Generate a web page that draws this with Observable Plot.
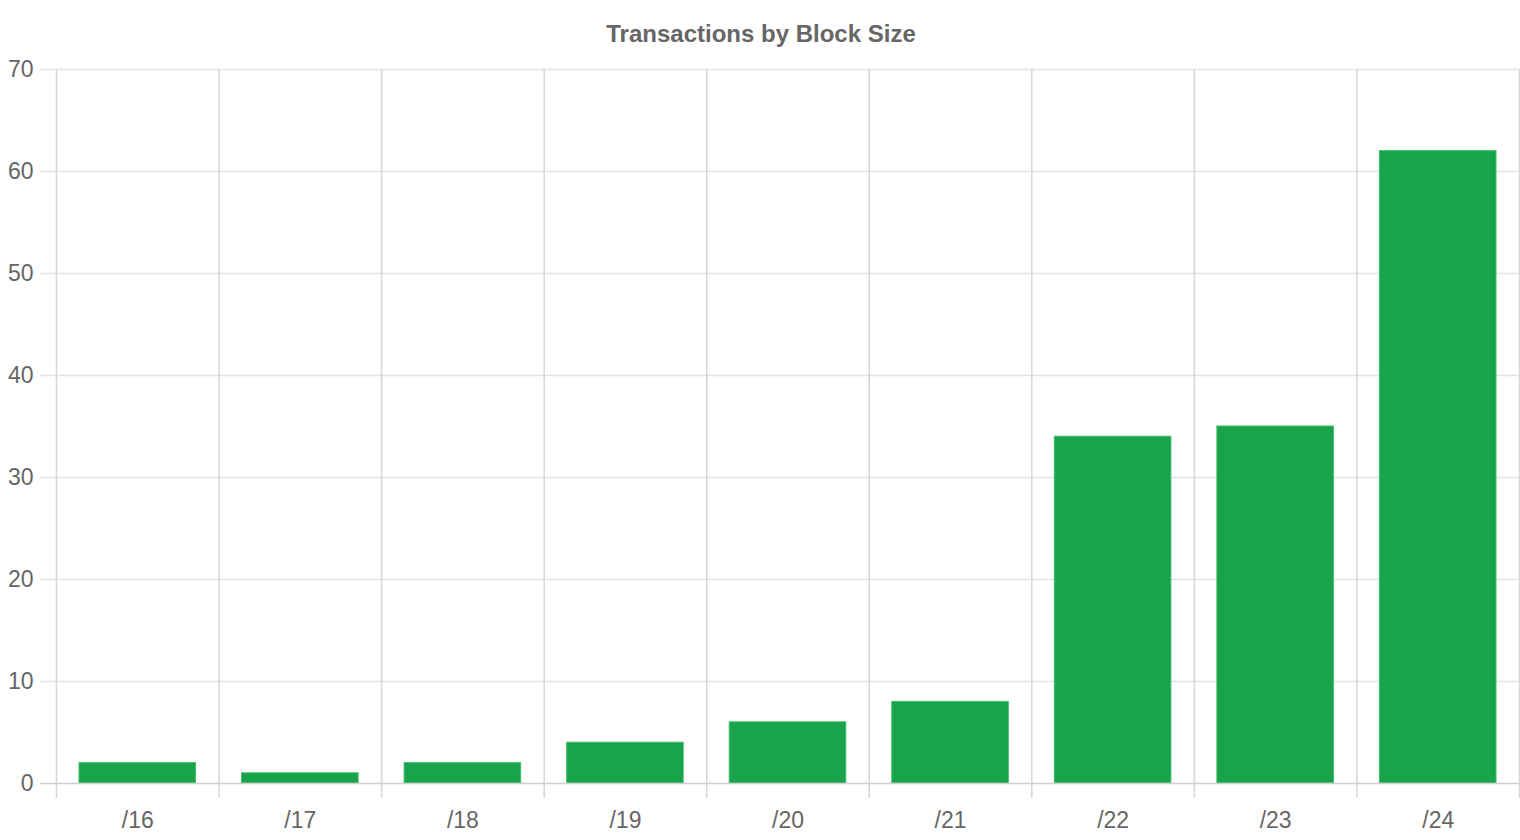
<!DOCTYPE html>
<html>
<head>
<meta charset="utf-8">
<script src="https://cdn.jsdelivr.net/npm/d3@7"></script>
<script src="https://cdn.jsdelivr.net/npm/@observablehq/plot@0.6"></script>
<style>
  html, body { margin: 0; padding: 0; background: #fff; }
  #chart svg { display: block; }
</style>
</head>
<body>
<div id="chart"></div>
<script>
const title = "Transactions by Block Size";
const categories = ["/16", "/17", "/18", "/19", "/20", "/21", "/22", "/23", "/24"];
const values = [2, 1, 2, 4, 6, 8, 34, 35, 62];
const yTicks = [0, 10, 20, 30, 40, 50, 60, 70];

const data = categories.map((c, i) => ({i, category: c, value: values[i]}));
const boundaries = d3.range(categories.length + 1);
const centers = categories.map((c, i) => i + 0.5);

const chart = Plot.plot({
  width: 1520,
  height: 840,
  marginLeft: 56,
  marginRight: 1,
  marginTop: 69,
  marginBottom: 57,
  style: {fontFamily: "'Liberation Sans', Arial, sans-serif", fontSize: "24px", color: "#666", background: "#fff"},
  x: {type: "linear", domain: [0, categories.length], axis: null, label: null},
  y: {domain: [0, 70], axis: null, label: null},
  marks: [
    // horizontal grid lines extended as tick marks to the left
    Plot.ruleY(yTicks.filter(d => d > 0), {stroke: "#e3e3e3", strokeWidth: 1.5, insetLeft: -16}),
    // vertical grid lines at category boundaries, extended below the axis
    Plot.ruleX(boundaries, {y1: 70, y2: 0, stroke: "#d6d6d6", strokeWidth: 1.5, insetBottom: -15}),
    // bars
    Plot.rectY(data, {x1: "i", x2: d => d.i + 1, y: "value", fill: "#19a34a", stroke: "#3fbf66", strokeWidth: 1, insetLeft: 23, insetRight: 23}),
    // baseline
    Plot.ruleY([0], {stroke: "#cfcfcf", strokeWidth: 1.5, insetLeft: -16}),
    // y tick labels
    Plot.axisY(yTicks, {tickSize: 0, tickPadding: 23, fill: "#666", fontSize: 23, label: null}),
    // x tick labels
    Plot.axisX(centers, {tickSize: 0, tickPadding: 28, fill: "#666", fontSize: 23, label: null, tickFormat: d => categories[Math.floor(d)]}),
    // title
    Plot.text([title], {frameAnchor: "top", lineAnchor: "middle", dx: -27, dy: -35, fontSize: 24, fontWeight: "bold", fill: "#666"})
  ]
});
document.getElementById("chart").append(chart);
</script>
</body>
</html>
